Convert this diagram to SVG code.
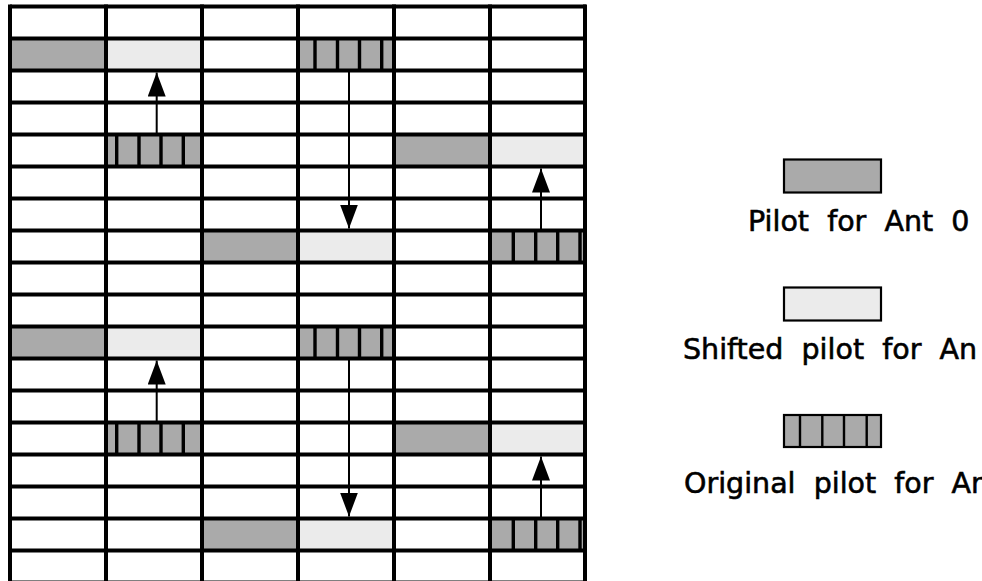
<svg xmlns="http://www.w3.org/2000/svg" width="982" height="581" viewBox="0 0 982 581">
<style>
.bg{fill:#ffffff}
.grid{stroke:#000;stroke-width:4;fill:none}
.dark{fill:#aaaaaa}
.light{fill:#ebebeb}
.stripe{stroke:#000;stroke-width:3.4}
.arrow{stroke:#000;stroke-width:2;fill:none}
.leg{stroke:#000;stroke-width:2.2}
.legs{stroke:#000;stroke-width:2.4}
.lbl{font-family:"DejaVu Sans",Verdana,sans-serif;font-size:28.5px;fill:#000;stroke:#000;stroke-width:0.6;white-space:pre}
</style>
<defs>
<marker id="ah" markerUnits="userSpaceOnUse" markerWidth="24" markerHeight="18" refX="24" refY="9" orient="auto">
<path d="M0,0 L24,9 L0,18 z" fill="#000"/>
</marker>
</defs>
<rect class="bg" x="0" y="0" width="982" height="581"/>

<g id="cells">
<g id="r1"><rect class="dark" x="10" y="38.5" width="96" height="32"/><rect class="light" x="106" y="38.5" width="96" height="32"/><rect class="dark" x="298" y="38.5" width="96" height="32"/></g>
<g id="r4"><rect class="dark" x="106" y="134.5" width="96" height="32"/><rect class="dark" x="394" y="134.5" width="96" height="32"/><rect class="light" x="490" y="134.5" width="96" height="32"/></g>
<g id="r7"><rect class="dark" x="202" y="230.5" width="96" height="32"/><rect class="light" x="298" y="230.5" width="96" height="32"/><rect class="dark" x="490" y="230.5" width="96" height="32"/></g>
<g id="r10"><rect class="dark" x="10" y="326.5" width="96" height="32"/><rect class="light" x="106" y="326.5" width="96" height="32"/><rect class="dark" x="298" y="326.5" width="96" height="32"/></g>
<g id="r13"><rect class="dark" x="106" y="422.5" width="96" height="32"/><rect class="dark" x="394" y="422.5" width="96" height="32"/><rect class="light" x="490" y="422.5" width="96" height="32"/></g>
<g id="r16"><rect class="dark" x="202" y="518.5" width="96" height="32"/><rect class="light" x="298" y="518.5" width="96" height="32"/><rect class="dark" x="490" y="518.5" width="96" height="32"/></g>
</g>

<g id="grid" class="grid">
<path d="M10,6.5 H586 M10,38.5 H586 M10,70.5 H586 M10,102.5 H586 M10,134.5 H586 M10,166.5 H586 M10,198.5 H586 M10,230.5 H586 M10,262.5 H586 M10,294.5 H586 M10,326.5 H586 M10,358.5 H586 M10,390.5 H586 M10,422.5 H586 M10,454.5 H586 M10,486.5 H586 M10,518.5 H586 M10,550.5 H586 M10,582.5 H586"/>
<path d="M10,4.5 V584 M106,4.5 V584 M202,4.5 V584 M298,4.5 V584 M394,4.5 V584 M490,4.5 V584 M585,4.5 V584"/>
</g>

<g id="stripes" class="stripe">
<path d="M116.7,134.5 V166.5 M139,134.5 V166.5 M161,134.5 V166.5 M183.3,134.5 V166.5"/>
<path d="M315,38.5 V70.5 M337.5,38.5 V70.5 M359.5,38.5 V70.5 M381.7,38.5 V70.5"/>
<path d="M513.3,230.5 V262.5 M535.7,230.5 V262.5 M557.7,230.5 V262.5 M580,230.5 V262.5"/>
<path d="M116.7,422.5 V454.5 M139,422.5 V454.5 M161,422.5 V454.5 M183.3,422.5 V454.5"/>
<path d="M315,326.5 V358.5 M337.5,326.5 V358.5 M359.5,326.5 V358.5 M381.7,326.5 V358.5"/>
<path d="M513.3,518.5 V550.5 M535.7,518.5 V550.5 M557.7,518.5 V550.5 M580,518.5 V550.5"/>
</g>

<g id="connectors" class="arrow">
<line x1="156.7" y1="134.5" x2="156.7" y2="72.5" marker-end="url(#ah)"/>
<line x1="156.7" y1="422.5" x2="156.7" y2="360.5" marker-end="url(#ah)"/>
<line x1="349" y1="70.5" x2="349" y2="228.5" marker-end="url(#ah)"/>
<line x1="349" y1="358.5" x2="349" y2="516.5" marker-end="url(#ah)"/>
<line x1="541" y1="230.5" x2="541" y2="168.5" marker-end="url(#ah)"/>
<line x1="541" y1="518.5" x2="541" y2="456.5" marker-end="url(#ah)"/>
</g>

<g id="legend">
<g id="leg-ant0"><rect class="dark leg" x="784" y="159.5" width="97" height="33"/><text class="lbl" x="748" y="231" xml:space="preserve">Pilot  for  Ant  0</text></g>
<g id="leg-shifted"><rect class="light leg" x="784" y="287.5" width="97" height="33"/><text class="lbl" x="683" y="359" xml:space="preserve">Shifted  pilot  for  An</text></g>
<g id="leg-original"><rect class="dark leg" x="784" y="415" width="97" height="32"/><path class="legs" d="M800,415 V447 M822.3,415 V447 M844,415 V447 M866.7,415 V447"/><text class="lbl" x="684" y="493" xml:space="preserve">Original  pilot  for  Ar</text></g>
</g>
</svg>
